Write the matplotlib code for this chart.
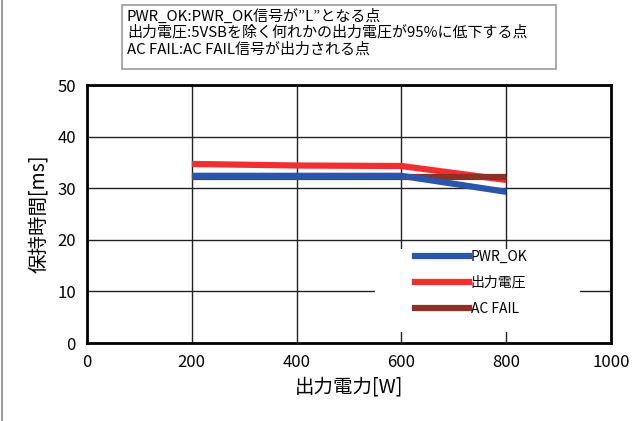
import matplotlib.pyplot as plt
from matplotlib.lines import Line2D

plt.rcParams['font.family'] = ['Noto Sans CJK JP', 'DejaVu Sans']

power = [200, 400, 600, 800]
pwr_ok = [32.4, 32.4, 32.4, 29.3]
out_volt = [34.7, 34.4, 34.3, 31.6]
ac_fail = [32.2, 32.2, 32.2, 32.2]

note_lines = [
    'PWR_OK:PWR_OK信号が”L”となる点',
    '出力電圧:5VSBを除く何れかの出力電圧が95%に低下する点',
    'AC FAIL:AC FAIL信号が出力される点',
]

W, H = 635, 421
fig = plt.figure(figsize=(W/100, H/100), dpi=100)
ax = fig.add_axes([87/W, 1 - 343/H, (611-87)/W, (343-85)/H])

c_blue = '#2a55a8'
c_red = '#f03030'
c_brown = '#8e3028'

ax.plot(power, out_volt, color=c_red, lw=4.5, zorder=3, solid_capstyle='butt')
ax.plot(power, ac_fail, color=c_brown, lw=4.5, zorder=4, solid_capstyle='butt')
ax.plot(power, pwr_ok, color=c_blue, lw=4.5, zorder=5, solid_capstyle='butt')

ax.set_xlim(0, 1000)
ax.set_ylim(0, 50)
ax.set_xticks(range(0, 1001, 200))
ax.set_yticks(range(0, 51, 10))
ax.grid(True, color='#222222', lw=1.0)
ax.set_axisbelow(True)
ax.tick_params(length=0, labelsize=12, pad=8)
for s in ax.spines.values():
    s.set_linewidth(2)
    s.set_color('black')

ax.set_xlabel('出力電力[W]', fontsize=14, labelpad=4)
ax.set_ylabel('保持時間[ms]', fontsize=14, labelpad=6)

# white area behind the legend (hides the grid)
bg = plt.Rectangle((375/W, 1 - 332/H), (580-375)/W, (332-249)/H,
                   transform=fig.transFigure, facecolor='white',
                   edgecolor='none', zorder=6)
fig.add_artist(bg)

handles = [Line2D([], [], color=c_blue, lw=4.5),
           Line2D([], [], color=c_red, lw=4.5),
           Line2D([], [], color=c_brown, lw=4.5)]
leg = fig.legend(handles, ['PWR_OK', '出力電圧', 'AC FAIL'],
                 loc='center left', bbox_to_anchor=(415/W, 1 - 283/H),
                 frameon=False, fontsize=10, handlelength=3.9, handletextpad=0.1,
                 labelspacing=0.85, borderpad=0, borderaxespad=0)
leg.set_zorder(10)

# note box at the top
box = plt.Rectangle((122/W, 1 - 69/H), (556-122)/W, 64/H,
                    transform=fig.transFigure, facecolor='white',
                    edgecolor='#999999', lw=1.2)
fig.patches.append(box)
for i, t in enumerate(note_lines):
    fig.text(127/W, 1 - (16 + i*16.5)/H, t, fontsize=10.8, va='center', ha='left')

# left page edge
fig.add_artist(Line2D([2/W, 2/W], [0, 1], transform=fig.transFigure,
                      color='#888888', lw=1.2))

fig.savefig('out.png', dpi=100)
